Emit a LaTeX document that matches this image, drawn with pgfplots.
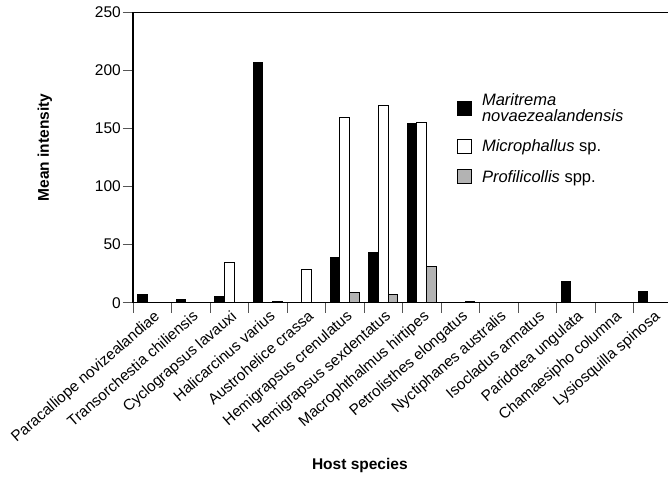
\documentclass[border=0pt]{standalone}
\usepackage{fontspec}
\setmainfont{Liberation Sans}
\usepackage{pgfplots}
\pgfplotsset{compat=1.18}
\definecolor{barGray}{HTML}{B3B3B3}
\definecolor{tickGray}{HTML}{555555}
\pgfplotsset{sq legend/.style={legend image code/.code={\draw[##1, line width=0.8pt] (0pt,-7pt) rectangle (14pt,7pt);}}}
\begin{document}
\begin{tikzpicture}
\begin{axis}[
  scale only axis, width=535pt, height=290.7pt,
  xmin=-0.5, xmax=13.4, ymin=0, ymax=250,
  axis x line*=bottom, axis y line*=left,
  axis line style={-, line width=1.1pt, black},
  xtick pos=bottom, ytick pos=left,
  tick align=outside,
  ybar, bar width=9.7pt,
  ytick={0,50,...,250},
  xtick={0,...,13},
  xticklabels={Paracalliope novizealandiae, Transorchestia chiliensis, Cyclograpsus lavauxi, Halicarcinus varius, Austrohelice crassa, Hemigrapsus crenulatus, Hemigrapsus sexdentatus, Macrophthalmus hirtipes, Petrolisthes elongatus, Nyctiphanes australis, Isocladus armatus, Paridotea ungulata, Chamaesipho columna, Lysiosquilla spinosa},
  major x tick style={draw=none},
  minor xtick={-0.5,0.5,...,13.5},
  major tick length=10pt, minor tick length=10pt,
  minor x tick style={line width=0.7pt, tickGray},
  major y tick style={line width=0.7pt, tickGray},
  x tick label style={rotate=41, anchor=north east, font=\fontsize{15.3}{17}\selectfont, inner sep=1pt, xshift=4pt, yshift=3pt},
  y tick label style={font=\fontsize{15.5}{17}\selectfont, inner sep=2pt},
  /pgf/number format/assume math mode=true,
  xlabel={\bfseries Host species},
  xlabel style={at={(axis description cs:0.424,0)}, anchor=base, yshift=-167pt, font=\fontsize{15.5}{17}\selectfont},
  ylabel={\bfseries Mean intensity},
  ylabel style={at={(axis description cs:-0.1645,0.534)}, anchor=center, font=\fontsize{15.5}{17}\selectfont},
  legend style={at={(axis description cs:0.60,0.735)}, anchor=north west, draw=none, fill=none,
    font=\fontsize{16.5}{16}\selectfont, row sep=13pt, cells={anchor=west, align=left},
    /tikz/every odd column/.append style={column sep=8pt}},
]
\addplot[fill=black, draw=black, line width=0.8pt, bar shift=-9.7pt, sq legend] coordinates {(0,7) (1,3) (2,5) (3,207) (5,39) (6,43) (7,154) (11,18) (13,9.5)};
\addplot[fill=white, draw=black, line width=0.8pt, bar shift=0pt, sq legend] coordinates {(2,35) (4,29) (5,159) (6,169.5) (7,155)};
\addplot[fill=barGray, draw=black, line width=0.8pt, bar shift=9.7pt, sq legend] coordinates {(3,1) (5,9) (6,7) (7,31) (8,1)};
\legend{{\textit{Maritrema}\\\textit{novaezealandensis}}, {\textit{Microphallus} sp.}, {\textit{Profilicollis} spp.}}
\draw[line width=1.1pt] (rel axis cs:0,1) -- (rel axis cs:1,1);
\end{axis}
\pgfresetboundingbox
\path[use as bounding box] (-133pt,-174.3pt) rectangle (535pt,302.7pt);
\end{tikzpicture}
\end{document}
